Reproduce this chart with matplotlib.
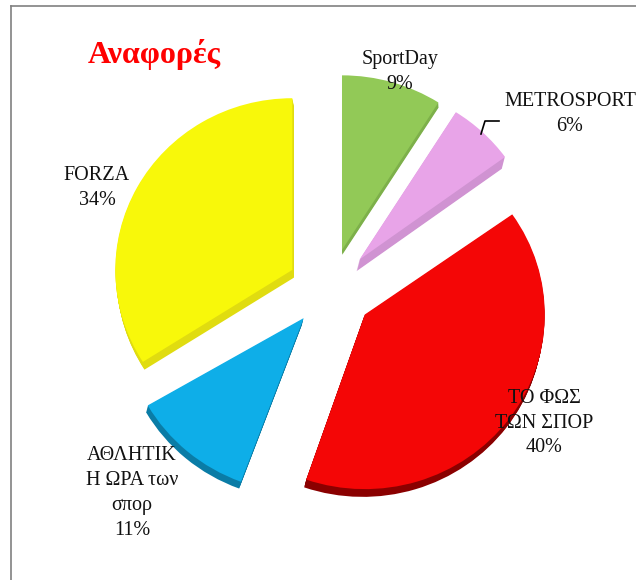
# exploded pie of reports per newspaper, with a fake 3D edge

import matplotlib
matplotlib.use("Agg")
import matplotlib.pyplot as plt

plt.rcParams["font.family"] = ["Liberation Serif", "DejaVu Serif"]

names = ["SportDay", "METROSPORT", "ΤΟ ΦΩΣ\nΤΩΝ ΣΠΟΡ", "ΑΘΛΗΤΙΚ\nΗ ΩΡΑ των\nσπορ", "FORZA"]
values = [9, 6, 40, 11, 34]
top_colors = ["#92C957", "#E8A4E8", "#F40606", "#0EAEE8", "#F8F80A"]
side_colors = ["#7DB04A", "#D093D2", "#8A0000", "#0A7CA6", "#E0DC10"]
side_depth = [5, 12, 8, 7, 8]
side_drift = [0.05, -0.25, -0.25, -0.25, 0.2]
slice_radius = [180, 180, 180, 180, 177]
slice_lift = [0, 0, 0, 5, 0]
slice_turn = [0, 0, -1, -2.4, 0]
label_pos = [(400, 72), (570, 114), (544, 423), (132, 493), (97, 188)]

fig = plt.figure(figsize=(6.36, 5.80), dpi=100)
ax = fig.add_axes([0, 0, 1, 1])

# pie() takes explode in data units, not as a share of the radius
explode = [43] * len(values)
center = (330, 290)
squash = 0.97  # the original is seen slightly from above


def draw_pie(colors, layer=0):
    wedges, _ = ax.pie(values, explode=explode, colors=colors, startangle=90,
                       counterclock=False, center=center)
    for i, w in enumerate(wedges):
        x, y = w.center
        w.set_center((x + layer * side_drift[i], y - layer + slice_lift[i]))
        w.set_radius(slice_radius[i])
        w.set_theta1(w.theta1 + slice_turn[i])
        w.set_theta2(w.theta2 + slice_turn[i])


# 1) side walls, drawn as stacked darker layers under the top face
for layer in range(1, max(side_depth) + 1):
    colors = [c if layer <= d else "none" for c, d in zip(side_colors, side_depth)]
    draw_pie(colors, layer)

# 2) top face
draw_pie(top_colors)

ax.set_aspect("auto")
ax.set_xlim(0, 636)
ax.set_ylim(center[1] - 290 / squash, center[1] + 290 / squash)
ax.axis("off")

# 3) texts and lines go on an overlay in picture pixels
top = fig.add_axes([0, 0, 1, 1])
top.set_xlim(0, 636)
top.set_ylim(580, 0)
top.axis("off")

for name, val, (x, y) in zip(names, values, label_pos):
    top.text(x, y, f"{name}\n{val}%", ha="center", va="center", fontsize=14.5,
             color="#111111", linespacing=1.42)

# leader line for METROSPORT
top.plot([481, 485, 499], [134, 121, 121], color="black", lw=1.2)

top.text(154, 54, "Αναφορές", ha="center", va="center", fontsize=23,
         fontweight="bold", color="#FF0000")

# chart frame, only the top and left edges fall inside the picture
top.plot([11, 11], [580, 5.5], color="#808080", lw=1.2)
top.plot([11, 636], [5.5, 5.5], color="#808080", lw=1.2)

fig.savefig("out.png", dpi=100, facecolor="white")
